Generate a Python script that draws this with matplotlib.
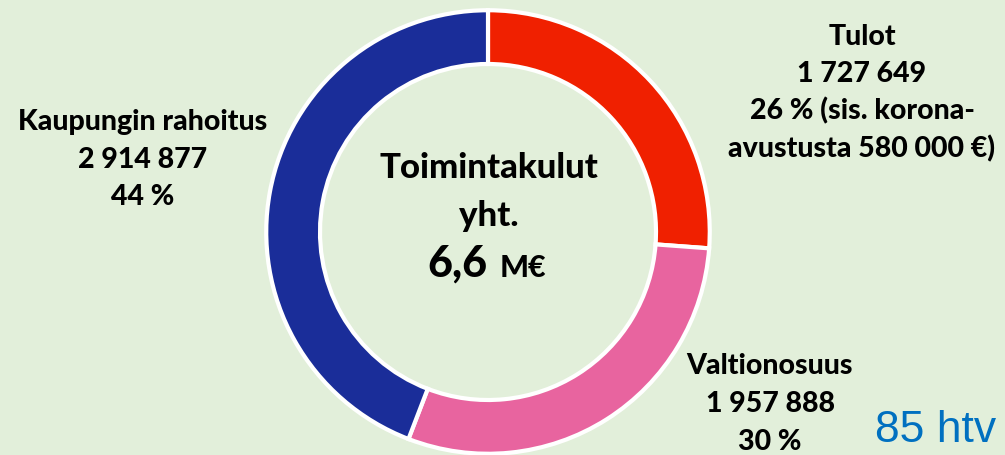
import matplotlib.pyplot as plt

# Toimintakulut jaettuna rahoituslähteisiin
labels = ['Tulot', 'Valtionosuus', 'Kaupungin rahoitus']
values = [1727649, 1957888, 2914877]
colors = ['#f02000', '#e8649f', '#1a2d99']

bg = '#e2efda'
fig = plt.figure(figsize=(10.05, 4.55), dpi=100, facecolor=bg)

# donut axes: center (488, 232) px, radius 222 px
cx, cy, r = 488, 232, 224
ax = fig.add_axes([(cx - r) / 1005, (455 - cy - r) / 455, 2 * r / 1005, 2 * r / 455])
ax.set_facecolor(bg)
ax.pie(values, colors=colors, startangle=90, counterclock=False, radius=0.99,
       wedgeprops=dict(width=0.24, edgecolor='white', linewidth=3))
ax.set_xlim(-1, 1)
ax.set_ylim(-1, 1)
ax.set_aspect('equal')
ax.axis('off')

font = ['Lato', 'DejaVu Sans']
kw = dict(fontsize=20.5, fontweight=900, family=font, ha='center', va='center', color='black')

def px(x, y):
    return x / 1005, 1 - y / 455

fig.text(*px(862, 37), 'Tulot', **kw)
fig.text(*px(862, 74), '1 727 649', **kw)
fig.text(*px(862, 111), '26 % (sis. korona-', **kw)
fig.text(*px(862, 149), 'avustusta 580 000 €)', **kw)

fig.text(*px(143, 122), 'Kaupungin rahoitus', **kw)
fig.text(*px(143, 160), '2 914 877', **kw)
fig.text(*px(143, 197), '44 %', **kw)

fig.text(*px(770, 366), 'Valtionosuus', **kw)
fig.text(*px(770, 404), '1 957 888', **kw)
fig.text(*px(770, 442), '30 %', **kw)

# keskiteksti
kw_c = dict(kw, fontsize=25)
fig.text(*px(489, 168), 'Toimintakulut', **kw_c)
fig.text(*px(489, 216), 'yht.', **kw_c)
fig.text(*px(457, 277), '6,6', **dict(kw, fontsize=31, va='baseline'))
fig.text(*px(523, 277), 'M€', **dict(kw, fontsize=22, va='baseline'))

fig.text(*px(936, 430), '85 htv', fontsize=32, family=['Liberation Sans', 'DejaVu Sans'],
         color='#0070c0', ha='center', va='center')

fig.savefig('out.png', dpi=100, facecolor=bg)
